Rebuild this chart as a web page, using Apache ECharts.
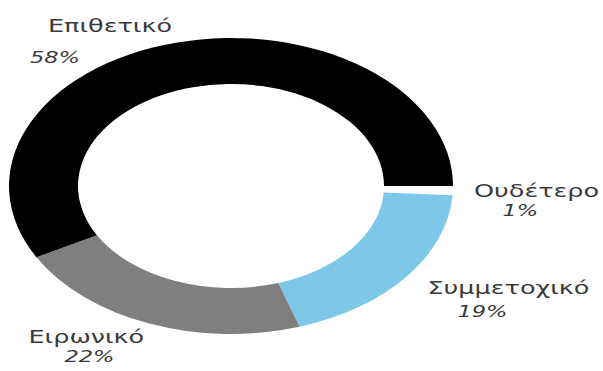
<!DOCTYPE html>
<html>
<head>
<meta charset="utf-8">
<script src="https://cdn.jsdelivr.net/npm/echarts@6/dist/echarts.min.js"></script>
<style>
  html, body { margin: 0; padding: 0; background: #ffffff; overflow: hidden; }
  /* The chart is drawn in a narrower box and stretched horizontally,
     which gives the wide, elliptical ring. */
  #chart {
    width: 402px;
    height: 371px;
    transform: scaleX(1.5);
    transform-origin: 0 0;
  }
</style>
</head>
<body>
<div id="chart"></div>
<script>
// Categories and shares (percent), in drawing order clockwise from 3 o'clock
const categories = ['Ουδέτερο', 'Συμμετοχικό', 'Ειρωνικό', 'Επιθετικό'];
const shares = [1, 19, 22, 58];
const sliceColors = ['#ffffff', '#7dc8e8', '#7f7f7f', '#000000'];

// Label placement (in the unstretched box): left edge, name centre y,
// line step between name and percent, indent of name line, indent of percent line
const labelSpots = [
  { left: 316, nameY: 191, step: 20, nameIndent: 0,  pctIndent: 19 },
  { left: 285, nameY: 288, step: 24, nameIndent: 0,  pctIndent: 20 },
  { left: 19,  nameY: 337, step: 20, nameIndent: 0,  pctIndent: 24 },
  { left: 20,  nameY: 26,  step: 32, nameIndent: 12, pctIndent: 0 }
];

const chart = echarts.init(document.getElementById('chart'), null, { renderer: 'svg' });

const pieData = categories.map((name, i) => ({
  name: name,
  value: shares[i],
  itemStyle: { color: sliceColors[i] },
  label: {
    rich: {
      n: {
        fontFamily: 'DejaVu Sans',
        fontSize: 17,
        color: '#3a3a3a',
        lineHeight: labelSpots[i].step,
        padding: [0, 0, 0, labelSpots[i].nameIndent]
      },
      p: {
        fontFamily: 'DejaVu Sans',
        fontSize: 15,
        fontStyle: 'italic',
        color: '#3a3a3a',
        lineHeight: labelSpots[i].step,
        padding: [0, 0, 0, labelSpots[i].pctIndent]
      }
    }
  }
}));

chart.setOption({
  animation: false,
  series: [{
    type: 'pie',
    center: [154, 186],
    radius: [102, 148],
    startAngle: 0,
    clockwise: true,
    avoidLabelOverlap: false,
    data: pieData,
    label: {
      show: true,
      position: 'outside',
      align: 'left',
      formatter: p => '{n|' + p.name + '}\n{p|' + p.value + '%}'
    },
    labelLine: { show: false },
    labelLayout: params => {
      const s = labelSpots[params.dataIndex];
      return {
        x: s.left,
        y: s.nameY - s.step / 2,
        align: 'left',
        verticalAlign: 'top'
      };
    },
    emphasis: { disabled: true }
  }]
});
</script>
</body>
</html>
